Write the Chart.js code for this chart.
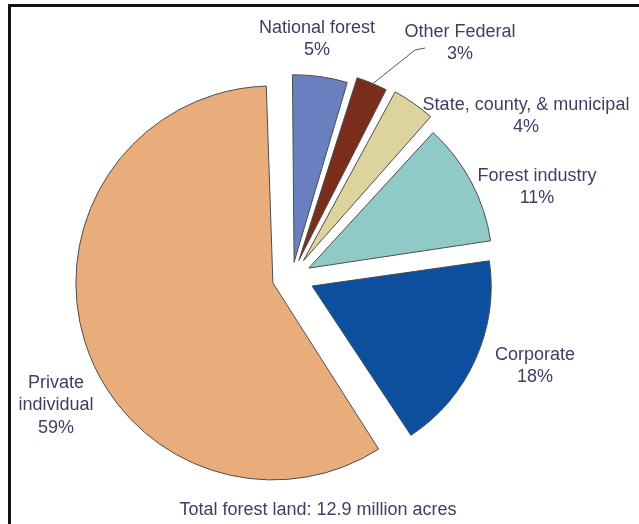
<!DOCTYPE html>
<html>
<head>
<meta charset="utf-8">
<script src="https://cdn.jsdelivr.net/npm/chart.js@4.4.1/dist/chart.umd.min.js"></script>
<style>
  html, body { margin: 0; padding: 0; background: #fff; }
  #wrap { position: relative; width: 639px; height: 524px; overflow: hidden; }
  #frame { position: absolute; left: 8px; top: 4px; right: -10px; bottom: -10px;
           border-top: 3px solid #111; border-left: 3px solid #111; pointer-events: none; }
  canvas { position: absolute; left: 0; top: 0; }
</style>
</head>
<body>
<div id="wrap">
  <canvas id="pie" width="639" height="524"></canvas>
  <div id="frame"></div>
</div>
<script>
// forest land by owner, clockwise from 12 o'clock
const owners = ['National forest', 'Other Federal', 'State, county, & municipal', 'Forest industry', 'Corporate', 'Private individual'];
const shares = [5, 3, 4, 11, 18, 59];
const totalNote = 'Total forest land: 12.9 million acres';

const sliceColors = ['#6a7fbf', '#7b2d1c', '#dcd39d', '#8fcac7', '#0b4f9e', '#e9ad7c'];
const explode = [60, 72, 80, 76, 88, 80];

// label text lines and where they sit on the canvas
const labelLines = [
  ['National forest', '5%'],
  ['Other Federal', '3%'],
  ['State, county, & municipal', '4%'],
  ['Forest industry', '11%'],
  ['Corporate', '18%'],
  ['Private', 'individual', '59%']
];
const labelAt = [[317, 28], [460, 32], [526, 105], [537, 176], [535, 355], [56, 383]];
const textColor = '#3d3f63';
const fontSpec = '18px "Liberation Sans", Arial, sans-serif';

const labelPlugin = {
  id: 'pieLabels',
  afterDraw(chart) {
    const ctx = chart.ctx;
    const arcs = chart.getDatasetMeta(0).data;
    ctx.save();
    ctx.fillStyle = textColor;
    ctx.font = fontSpec;
    ctx.textAlign = 'center';
    ctx.textBaseline = 'middle';
    labelLines.forEach((lines, i) => {
      const [x, y] = labelAt[i];
      lines.forEach((txt, k) => ctx.fillText(txt, x, y + k * 22.5));
    });
    ctx.fillText(totalNote, 318, 510);

    // leader line for the thin "Other Federal" slice
    const a = arcs[1];
    const p = a.getProps(['x', 'y', 'startAngle', 'endAngle', 'outerRadius', 'circumference']);
    const mid = (p.startAngle + p.endAngle) / 2;
    const t = (a.options.offset || 0) / 4;
    const fix = 1 - Math.sin(Math.min(Math.PI, p.circumference));
    const r = p.outerRadius + t * fix + t;
    const sx = p.x + Math.cos(mid) * (r - 2);
    const sy = p.y + Math.sin(mid) * (r - 2);
    const [lx, ly] = labelAt[1];
    ctx.strokeStyle = '#555';
    ctx.lineWidth = 1;
    ctx.beginPath();
    ctx.moveTo(sx, sy);
    ctx.lineTo(lx - 45, ly + 18);
    ctx.lineTo(lx - 35, ly + 16);
    ctx.stroke();
    ctx.restore();
  }
};

new Chart(document.getElementById('pie'), {
  type: 'pie',
  data: {
    labels: owners,
    datasets: [{
      data: shares,
      backgroundColor: sliceColors,
      borderColor: '#4d4d4d',
      borderWidth: 1,
      offset: explode
    }]
  },
  options: {
    responsive: false,
    animation: false,
    events: [],
    rotation: -1,
    radius: 177,
    layout: { padding: { left: 0, right: 55, top: 30, bottom: 0 } },
    plugins: {
      legend: { display: false },
      tooltip: { enabled: false }
    }
  },
  plugins: [labelPlugin]
});
</script>
</body>
</html>
